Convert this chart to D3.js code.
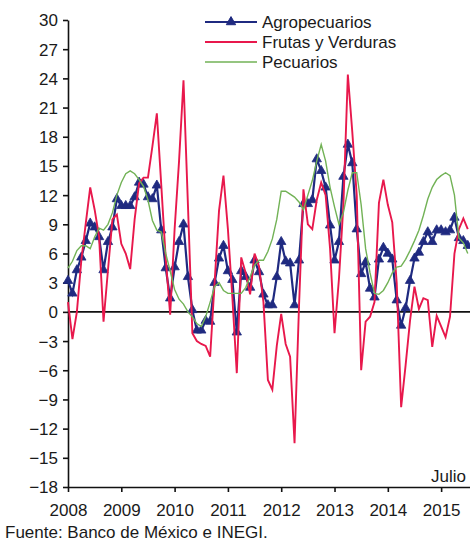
<!DOCTYPE html>
<html><head><meta charset="utf-8">
<script src="https://cdn.jsdelivr.net/npm/d3@7"></script>
<style>
body{margin:0;background:#fff}
text{font-family:"Liberation Sans",Arial,sans-serif;fill:#1a1a1a}
</style>
</head><body>
<svg id="chart" width="470" height="541"></svg>
<script>
// Monthly series, Jan 2008 – Jul 2015 (annual % change)
const yearLabels = ["2008","2009","2010","2011","2012","2013","2014","2015"];
const seriesNames = ["Agropecuarios","Frutas y Verduras","Pecuarios"];
const yTicks = [30,27,24,21,18,15,12,9,6,3,0,-3,-6,-9,-12,-15,-18];

const agropecuarios = [
 3.2, 1.9, 4.3, 5.6, 7.3, 9.1, 8.7, 7.7, 4.3, 7.2, 8.7, 11.6,
 10.9, 10.9, 10.9, 11.8, 13.3, 13.1, 11.8, 11.6, 13.0, 8.4, 4.5, 1.4,
 4.6, 7.2, 9.0, 3.6, 0.2, -1.9, -1.9, -0.9, -1.0, 3.0, 5.5, 6.8,
 4.2, 3.3, -2.1, 4.2, 3.6, 2.5, 5.3, 4.1, 1.8, 0.7, 0.7, 3.6,
 7.2, 5.2, 5.0, 0.7, 5.3, 11.1, 11.1, 11.5, 15.7, 14.5, 12.8, 8.9,
 5.3, 7.2, 13.9, 17.2, 15.3, 8.5, 3.9, 5.1, 2.4, 1.5, 5.4, 6.6,
 6.0, 5.4, 1.2, -1.4, 0.4, 3.2, 5.5, 6.1, 7.2, 8.2, 7.2, 8.4,
 8.4, 8.2, 8.4, 9.7, 7.6, 7.3, 6.8
];
const frutasVerduras = [
 1.0, -2.8, 0.0, 5.3, 9.1, 12.8, 10.5, 7.7, -1.0, 4.3, 9.5, 10.0,
 7.0, 6.0, 4.4, 9.5, 13.2, 13.8, 13.8, 17.0, 20.4, 13.0, 5.5, -0.3,
 8.5, 15.5, 23.8, 11.0, -2.2, -3.0, -3.3, -3.5, -4.6, 3.0, 10.4, 14.0,
 8.5, 1.5, -6.3, 5.6, 4.0, 1.8, 6.0, 4.7, 1.0, -7.0, -8.0, -3.5,
 -0.2, -3.3, -4.6, -13.5, 0.5, 12.6, 9.0, 8.5, 11.5, 13.3, 12.0, 6.5,
 -2.2, 3.4, 11.0, 24.4, 18.5, 12.0, -6.0, -1.0, -0.5, 1.0, 11.2, 13.6,
 11.0, 9.2, 3.0, -9.8, -5.5, -0.9, 2.6, 0.3, 1.4, 1.2, -3.6, -0.4,
 -1.5, -2.6, -0.5, 6.0, 8.5, 9.6, 8.5
];
const pecuarios = [
 4.5, 5.2, 6.3, 6.8, 6.8, 6.5, 7.7, 8.6, 8.4, 9.0, 10.2, 12.0,
 13.3, 14.2, 14.5, 14.2, 13.6, 12.9, 11.5, 9.4, 8.4, 8.2, 6.0, 4.2,
 2.3, 1.3, 0.8, 0.0, -0.5, -1.2, -1.5, -0.5, 1.0, 2.6, 3.0, 2.2,
 1.9, 1.9, 1.9, 1.9, 2.5, 3.6, 4.8, 5.3, 5.3, 6.2, 7.5, 9.5,
 12.4, 12.4, 12.1, 11.8, 11.3, 10.5, 12.0, 13.5, 15.5, 17.2, 15.5, 12.8,
 10.8, 9.0, 10.2, 12.5, 14.3, 14.3, 11.0, 6.5, 4.0, 1.9, 1.8, 2.2,
 3.0, 4.0, 4.6, 4.7, 5.4, 6.3, 7.3, 8.4, 9.9, 11.6, 12.8, 13.6,
 14.0, 14.3, 14.0, 12.0, 7.6, 7.1, 6.0
];

const colors = {agro:"#1f2a80", frutas:"#e8184c", pec:"#72b256"};

const svg = d3.select("#chart");
const nMonths = agropecuarios.length;
const x = d3.scaleLinear().domain([0, nMonths - 0.5]).range([68, 470]);
const y = d3.scaleLinear().domain([-18, 30]).range([487, 20]);

// Y axis
const yAxis = svg.append("g").attr("transform","translate(68,0)")
  .call(d3.axisLeft(y).tickValues(yTicks).tickSize(5).tickSizeOuter(0).tickPadding(5).tickFormat(d3.format("d")));
yAxis.selectAll("text").style("font-size","17px").attr("dy","0.35em");
yAxis.selectAll("line,path").attr("stroke","#111").attr("stroke-width",1.6);

// X axis
const yearIdx = yearLabels.map((d,i)=>i*12);
const xAxis = svg.append("g").attr("transform","translate(0,487)")
  .call(d3.axisBottom(x).tickValues(yearIdx).tickFormat((d,i)=>yearLabels[i]).tickSize(5).tickSizeOuter(0).tickPadding(12));
xAxis.selectAll("text").style("font-size","17px");
xAxis.selectAll("line,path").attr("stroke","#111").attr("stroke-width",1.6);

// zero line
svg.append("line").attr("x1",x(0)).attr("x2",470).attr("y1",y(0)).attr("y2",y(0))
  .attr("stroke","#111").attr("stroke-width",1.6);

const line = d3.line().x((d,i)=>x(i)).y(d=>y(d));

svg.append("path").datum(agropecuarios).attr("d",line).attr("fill","none")
  .attr("stroke",colors.agro).attr("stroke-width",2.2);
const tri = d3.symbol().type(d3.symbolTriangle).size(38);
svg.append("g").selectAll("path").data(agropecuarios).join("path")
  .attr("d",tri).attr("transform",(d,i)=>`translate(${x(i)},${y(d)})`)
  .attr("fill",colors.agro).attr("stroke",colors.agro).attr("stroke-width",0.8);

svg.append("path").datum(frutasVerduras).attr("d",line).attr("fill","none")
  .attr("stroke",colors.frutas).attr("stroke-width",1.9);

svg.append("path").datum(pecuarios).attr("d",line).attr("fill","none")
  .attr("stroke",colors.pec).attr("stroke-width",1.4);

// Legend
const leg = [
  {name:seriesNames[0], c:colors.agro, w:2.2, tri:true, y:22},
  {name:seriesNames[1], c:colors.frutas, w:1.9, tri:false, y:42},
  {name:seriesNames[2], c:colors.pec, w:1.4, tri:false, y:62}
];
const lg = svg.append("g");
leg.forEach(l=>{
  lg.append("line").attr("x1",205).attr("x2",257).attr("y1",l.y).attr("y2",l.y)
    .attr("stroke",l.c).attr("stroke-width",l.w);
  if(l.tri) lg.append("path").attr("d",tri).attr("transform",`translate(231,${l.y})`)
    .attr("fill",l.c).attr("stroke",l.c);
  lg.append("text").attr("x",262).attr("y",l.y).attr("dy","0.35em")
    .style("font-size","17px").text(l.name);
});

svg.append("text").attr("x",466).attr("y",482).attr("text-anchor","end")
  .style("font-size","17px").text("Julio");
svg.append("text").attr("x",5).attr("y",538)
  .style("font-size","17px").text("Fuente: Banco de México e INEGI.");
</script>
</body></html>
